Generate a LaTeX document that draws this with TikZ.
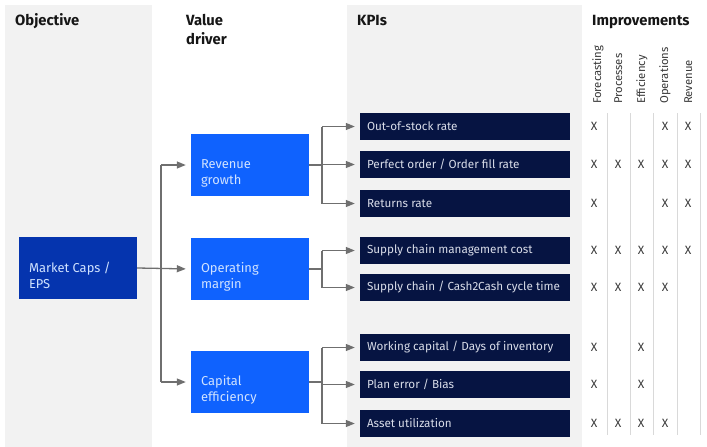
\documentclass[tikz,border=0pt]{standalone}
\usepackage{fontspec}
\setmainfont{Fira Sans}
\usetikzlibrary{arrows.meta,calc}
\definecolor{colbg}{HTML}{F2F2F2}
\definecolor{mktblue}{HTML}{0534AE}
\definecolor{valblue}{HTML}{0F62FE}
\definecolor{kpinavy}{HTML}{061442}
\definecolor{lightxt}{HTML}{D0E2FF}
\definecolor{kpitxt}{HTML}{D8DCE8}
\definecolor{linegray}{HTML}{6F6F6F}
\definecolor{sepgray}{HTML}{D9D9D9}
\definecolor{hdrtxt}{HTML}{161616}
\definecolor{xtxt}{HTML}{393939}
\tikzset{
  hdr/.style={inner sep=0pt, anchor=base west, text=hdrtxt, font=\bfseries\fontsize{14.8}{19}\selectfont},
  mktbox/.style={fill=mktblue, draw=none, minimum width=118pt, minimum height=62pt, inner sep=0pt},
  valbox/.style={fill=valblue, draw=none, minimum width=118pt, minimum height=62pt, inner sep=0pt},
  kpibox/.style={fill=kpinavy, draw=none, minimum width=210pt, minimum height=27pt, inner sep=0pt},
  boxtxt/.style={inner sep=0pt, anchor=base west, text=lightxt, font=\fontsize{12.9}{15.5}\selectfont},
  kpitext/.style={inner sep=0pt, anchor=west, text=kpitxt, font=\fontsize{11.7}{13}\selectfont},
  rothdr/.style={inner sep=0pt, anchor=base west, rotate=90, text=xtxt, font=\fontsize{11.3}{13}\selectfont},
  xmark/.style={inner sep=0pt, text=xtxt, font=\fontsize{12}{14}\selectfont},
  conn/.style={draw=linegray, line width=1.3pt},
  arr/.style={conn, -{Triangle[length=9pt,width=7pt]}, shorten >=5pt},
  sepline/.style={draw=sepgray, line width=1pt}
}
\begin{document}
\begin{tikzpicture}[x=1pt,y=-1pt]
\useasboundingbox (0,0) rectangle (707,447);
% column backgrounds
\fill[colbg] (5,5) rectangle (152,447);
\fill[colbg] (347,5) rectangle (582,447);

% headers
\node[hdr] (hobj) at (15,25) {Objective};
\node[hdr] (hval) at (186,25) {\begin{tabular}[t]{@{}l@{}}Value\\driver\end{tabular}};
\node[hdr] (hkpi) at (357,25) {KPIs};
\node[hdr] (himp) at (592,25) {Improvements};

% rotated improvement headers
\node[rothdr] (cf) at (601,104) {Forecasting};
\node[rothdr] (cp) at (622,104) {Processes};
\node[rothdr] (ce) at (645,104) {Efficiency};
\node[rothdr] (co) at (668,104) {Operations};
\node[rothdr] (cr) at (692,104) {Revenue};

% separator lines
\foreach \sx/\nm in {607/s1,630/s2,653/s3,677/s4,700/s5}{
  \coordinate (\nm t) at (\sx,113);
  \coordinate (\nm b) at (\sx,435);
  \draw[sepline] (\nm t) -- (\nm b);
}

% objective box
\node[mktbox] (mkt) at (78,268) {};
\node[boxtxt] (mktt) at ($(mkt.south west)+(10,-11)$) {\begin{tabular}[b]{@{}l@{}}Market Caps /\\EPS\end{tabular}};

% value driver boxes
\node[valbox] (rev) at (250,165) {};
\node[boxtxt] (revt) at ($(rev.south west)+(10,-12)$) {\begin{tabular}[b]{@{}l@{}}Revenue\\growth\end{tabular}};
\node[valbox] (opm) at (250,269) {};
\node[boxtxt] (opmt) at ($(opm.south west)+(10,-12)$) {\begin{tabular}[b]{@{}l@{}}Operating\\margin\end{tabular}};
\node[valbox] (cap) at (250,382) {};
\node[boxtxt] (capt) at ($(cap.south west)+(10,-12)$) {\begin{tabular}[b]{@{}l@{}}Capital\\efficiency\end{tabular}};

% KPI boxes
\node[kpibox] (k1) at (465,126.5) {};
\node[kpitext] (k1t) at ($(k1.west)+(7,0)$) {Out-of-stock rate};
\node[kpibox] (k2) at (465,164.5) {};
\node[kpitext] (k2t) at ($(k2.west)+(7,0)$) {Perfect order / Order fill rate};
\node[kpibox] (k3) at (465,203.5) {};
\node[kpitext] (k3t) at ($(k3.west)+(7,0)$) {Returns rate};
\node[kpibox] (k4) at (465,250.5) {};
\node[kpitext] (k4t) at ($(k4.west)+(7,0)$) {Supply chain management cost};
\node[kpibox] (k5) at (465,287.5) {};
\node[kpitext] (k5t) at ($(k5.west)+(7,0)$) {Supply chain / Cash2Cash cycle time};
\node[kpibox] (k6) at (465,347.5) {};
\node[kpitext] (k6t) at ($(k6.west)+(7,0)$) {Working capital / Days of inventory};
\node[kpibox] (k7) at (465,384.5) {};
\node[kpitext] (k7t) at ($(k7.west)+(7,0)$) {Plan error / Bias};
\node[kpibox] (k8) at (465,423.5) {};
\node[kpitext] (k8t) at ($(k8.west)+(7,0)$) {Asset utilization};

% connectors: objective -> value drivers
\coordinate (jv) at (161,268);
\draw[arr] (mkt.east) -- (opm.west);
\draw[conn] (jv |- rev.west) -- (jv |- cap.west);
\draw[arr] (jv |- rev.west) -- (rev.west);
\draw[arr] (jv |- cap.west) -- (cap.west);

% value drivers -> KPIs
\coordinate (jk) at (322,0);
\draw[conn] (rev.east) -- (jk |- rev.east);
\draw[conn] (jk |- k1.west) -- (jk |- k3.west);
\draw[arr] (jk |- k1.west) -- (k1.west);
\draw[arr] (jk |- k2.west) -- (k2.west);
\draw[arr] (jk |- k3.west) -- (k3.west);

\draw[conn] (opm.east) -- (jk |- opm.east);
\draw[conn] (jk |- k4.west) -- (jk |- k5.west);
\draw[arr] (jk |- k4.west) -- (k4.west);
\draw[arr] (jk |- k5.west) -- (k5.west);

\draw[conn] (cap.east) -- (jk |- cap.east);
\draw[conn] (jk |- k6.west) -- (jk |- k8.west);
\draw[arr] (jk |- k6.west) -- (k6.west);
\draw[arr] (jk |- k7.west) -- (k7.west);
\draw[arr] (jk |- k8.west) -- (k8.west);

% X marks
\foreach \r/\cols in {k1/{594,665,688},
                      k2/{594,618,641,665,688},
                      k3/{594,665,688},
                      k4/{594,618,641,665,688},
                      k5/{594,618,641,665},
                      k6/{594,641},
                      k7/{594,641},
                      k8/{594,618,641,665}}{
  \foreach \cx in \cols {
    \node[xmark] (x\r\cx) at (\cx,0 |- \r.west) {X};
  }
}
\end{tikzpicture}
\end{document}
